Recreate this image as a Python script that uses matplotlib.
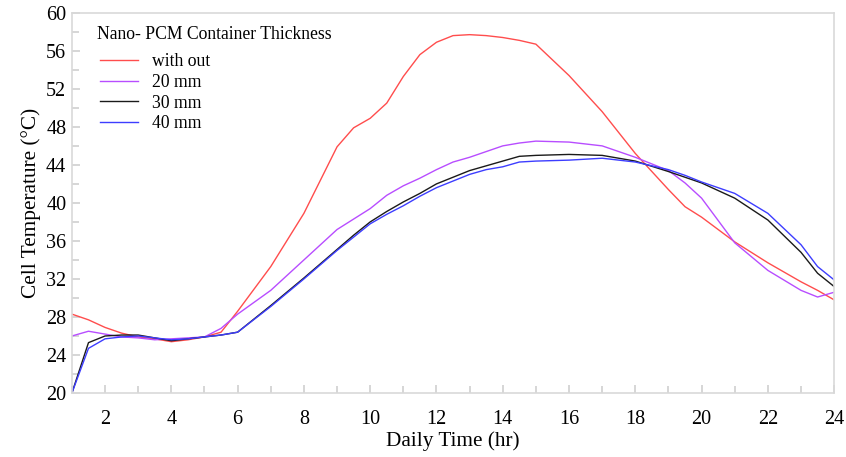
import matplotlib
matplotlib.use("Agg")
import matplotlib.pyplot as plt
from matplotlib.ticker import MultipleLocator

plt.rcParams['font.family'] = ['Liberation Serif', 'DejaVu Serif']

# Daily time (hr)
hours = [1, 1.5, 2, 2.5, 3, 3.5, 4, 4.5, 5, 5.5, 6, 7, 8, 9, 9.5, 10, 10.5, 11, 11.5, 12,
         12.5, 13, 13.5, 14, 14.5, 15, 16, 17, 18, 19, 19.5, 20, 21, 22, 23, 23.5, 24]

# Cell temperature (C) for each container thickness
t_without = [28.3, 27.7, 26.9, 26.3, 25.9, 25.7, 25.4, 25.6, 25.9, 26.4, 28.6, 33.3, 38.9, 45.9,
             47.9, 48.9, 50.5, 53.3, 55.6, 56.9, 57.6, 57.7, 57.6, 57.4, 57.1, 56.7, 53.4, 49.6,
             45.2, 41.4, 39.6, 38.5, 35.9, 33.7, 31.7, 30.8, 29.8]
t_20mm = [26.0, 26.5, 26.2, 25.9, 25.8, 25.6, 25.7, 25.8, 25.9, 26.8, 28.3, 30.8, 34.0, 37.2,
          38.3, 39.4, 40.8, 41.8, 42.6, 43.5, 44.3, 44.8, 45.4, 46.0, 46.3, 46.5, 46.4, 46.0,
          44.8, 43.4, 42.1, 40.5, 35.8, 32.9, 30.8, 30.1, 30.6]
t_30mm = [20.0, 25.3, 26.0, 26.1, 26.1, 25.8, 25.5, 25.7, 25.9, 26.1, 26.4, 29.2, 32.1, 35.1,
          36.6, 38.0, 39.1, 40.1, 41.0, 42.0, 42.7, 43.4, 43.9, 44.4, 44.9, 45.0, 45.1, 45.0,
          44.4, 43.3, 42.7, 42.1, 40.5, 38.2, 34.8, 32.6, 31.2]
t_40mm = [20.0, 24.7, 25.7, 25.9, 26.0, 25.8, 25.6, 25.7, 25.9, 26.1, 26.4, 29.1, 32.0, 35.0,
          36.4, 37.8, 38.8, 39.7, 40.7, 41.6, 42.3, 43.0, 43.5, 43.8, 44.3, 44.4, 44.5, 44.7,
          44.3, 43.5, 42.9, 42.2, 41.0, 38.9, 35.6, 33.3, 31.9]

labels = ["with out", "20 mm", "30 mm", "40 mm"]
colors = ["#ff4d4d", "#b84dff", "#1a1a1a", "#3d3dff"]

fig = plt.figure(figsize=(8.46, 4.57), dpi=100)
ax = fig.add_axes([0.085, 0.140, 0.901, 0.832])

for series, lab, col in zip([t_without, t_20mm, t_30mm, t_40mm], labels, colors):
    ax.plot(hours, series, color=col, lw=1.0, label=lab)

ax.set_xlim(1, 24)
ax.set_ylim(20, 60)
ax.xaxis.set_major_locator(MultipleLocator(2))
ax.xaxis.set_minor_locator(MultipleLocator(1))
ax.yaxis.set_major_locator(MultipleLocator(4))
ax.yaxis.set_minor_locator(MultipleLocator(2))

for s in ax.spines.values():
    s.set_color("#d9d9d9")
    s.set_linewidth(1.2)
ax.tick_params(which="both", direction="in", color="#d0d0d0", labelsize=14.5, width=1.2)
ax.tick_params(which="major", length=6)
ax.tick_params(which="minor", length=5)
ax.tick_params(axis="x", pad=12)
ax.tick_params(axis="y", pad=4)

ax.set_xlabel("Daily Time (hr)", fontsize=15.3, labelpad=2)
ax.set_ylabel("Cell Temperature (\u00b0C)", fontsize=15.3, labelpad=4)

# legend title drawn separately, with a larger gap above the entries
ax.text(0.033, 0.942, "Nano- PCM Container Thickness", transform=ax.transAxes,
        fontsize=12.7, ha="left", va="center")
ax.legend(loc="upper left", bbox_to_anchor=(0.037, 0.893), frameon=False, fontsize=12.7,
          borderpad=0, borderaxespad=0,
          handlelength=2.16, handletextpad=0.8, labelspacing=0.2)

fig.savefig("out.png", dpi=100)
